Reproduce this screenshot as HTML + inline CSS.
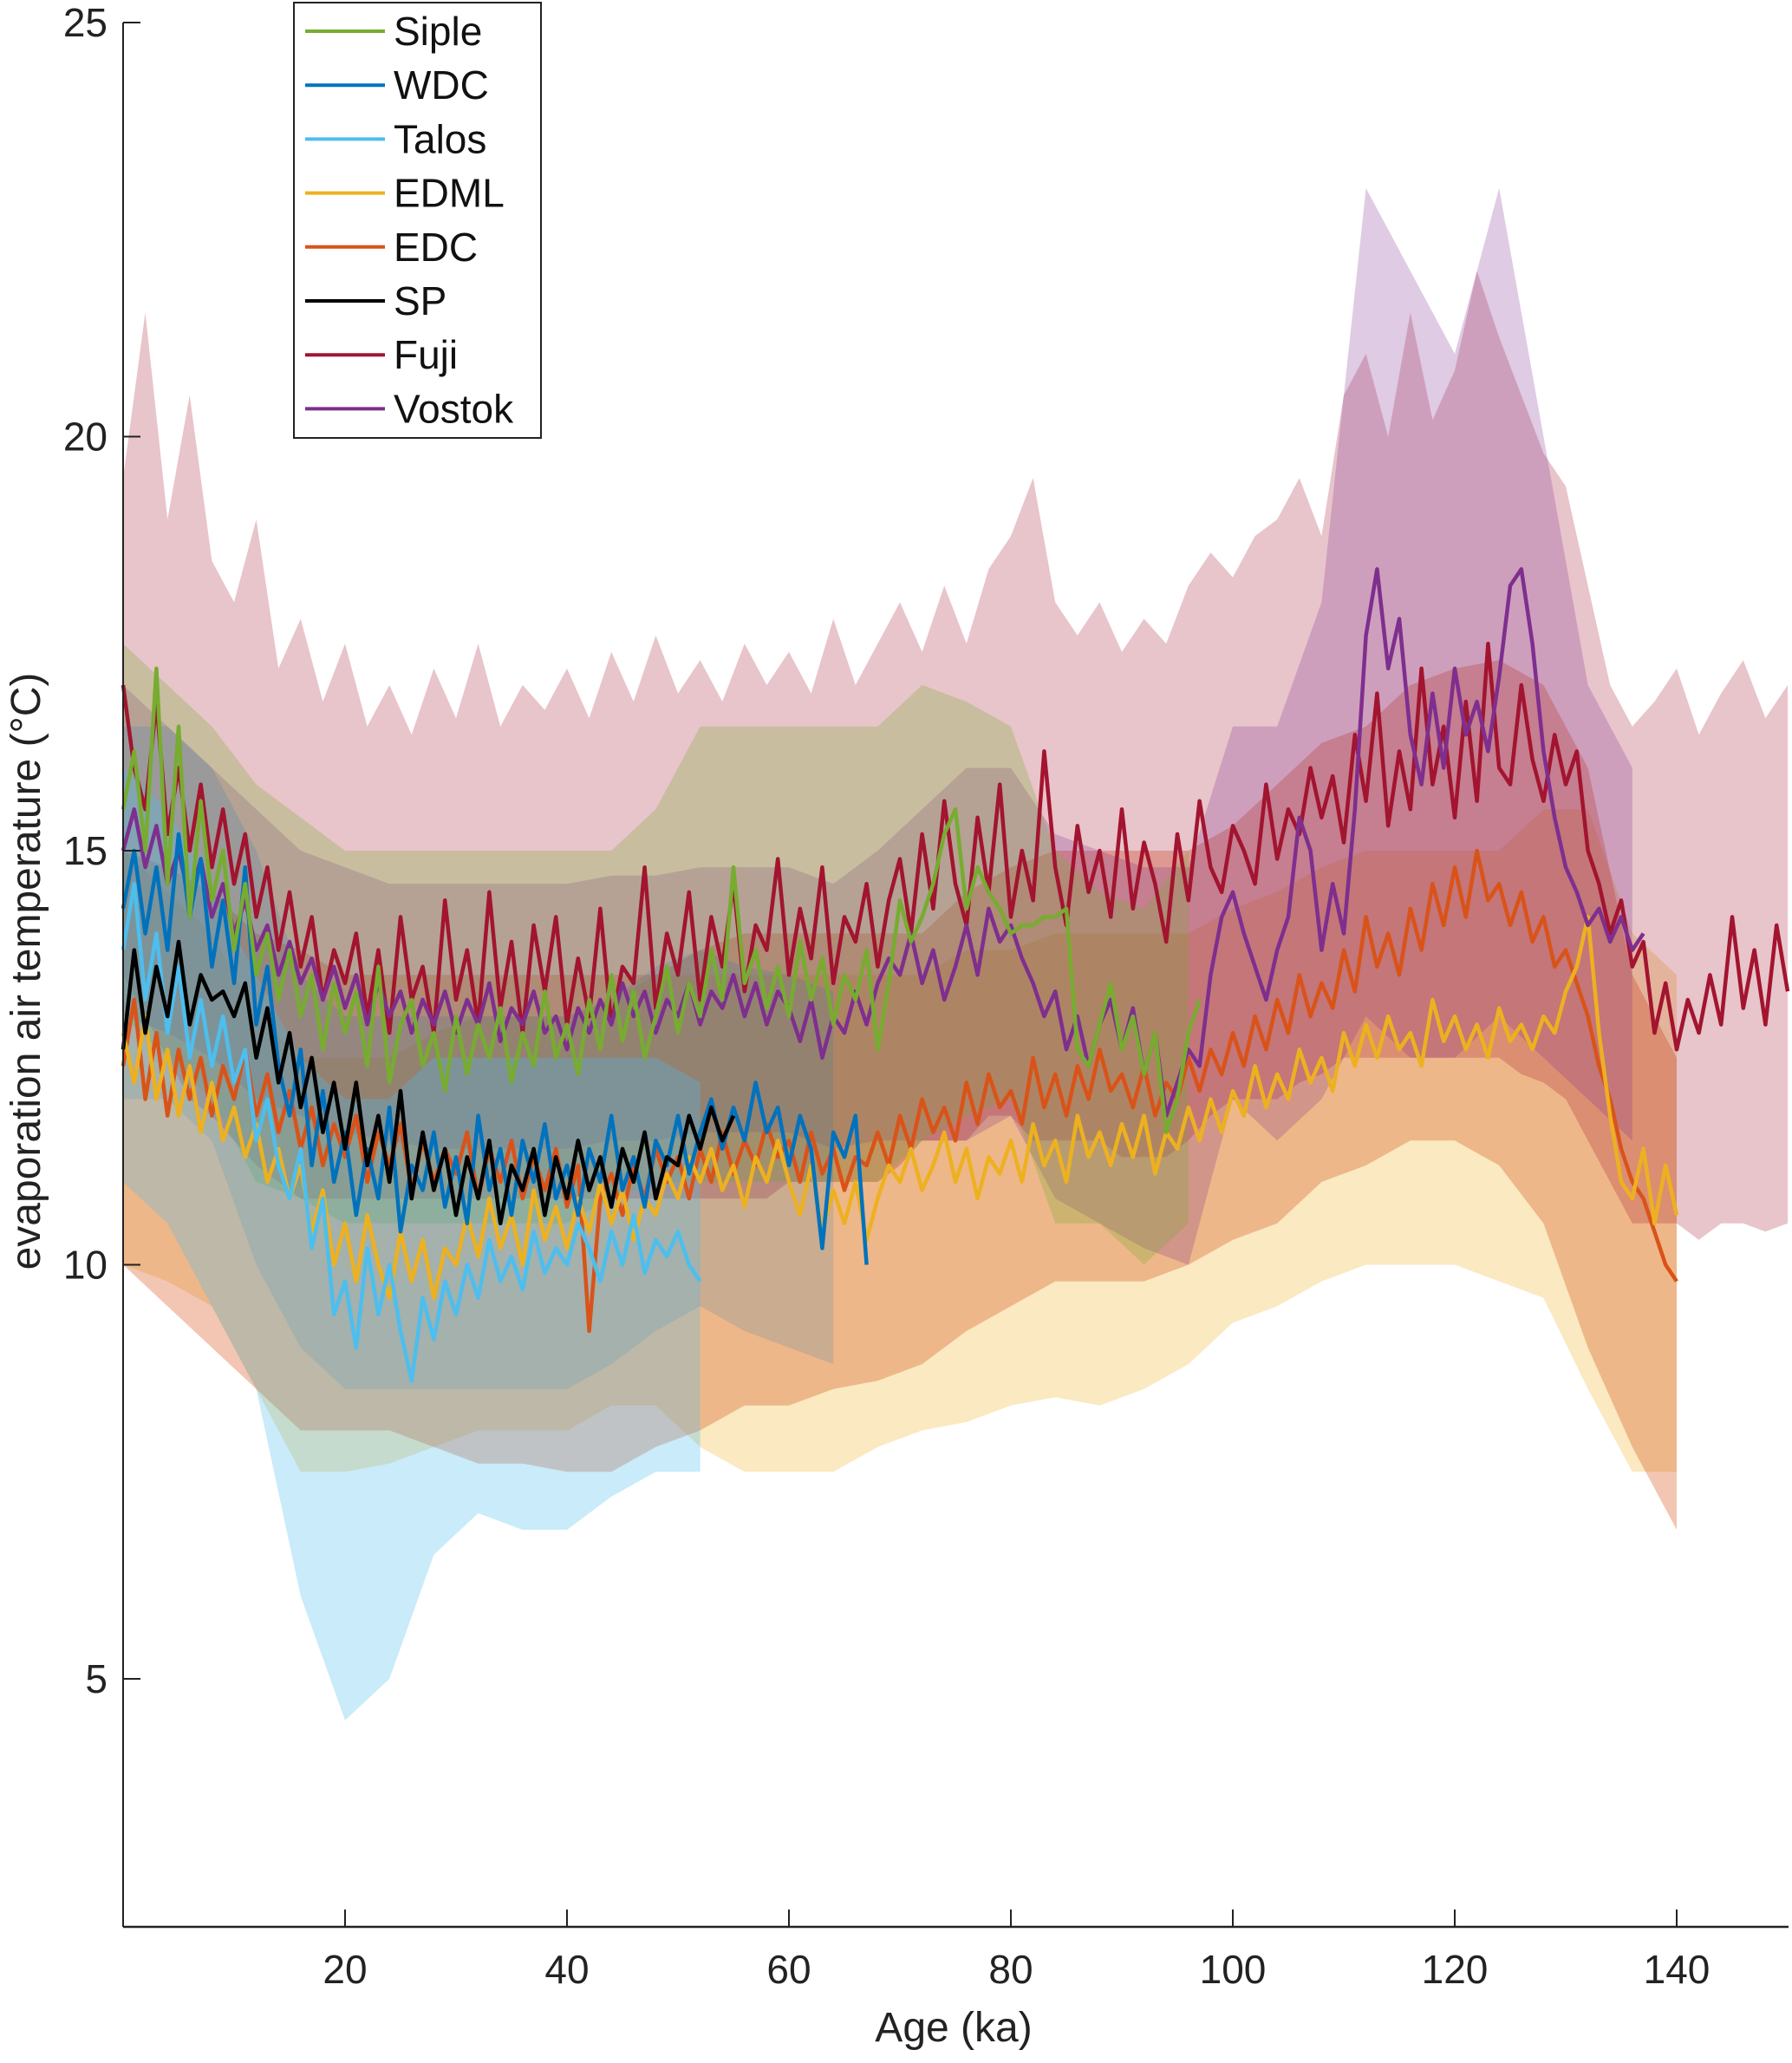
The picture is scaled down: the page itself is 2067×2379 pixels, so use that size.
<!DOCTYPE html>
<html><head><meta charset="utf-8"><style>
html,body{margin:0;padding:0;background:#fff;}
svg{display:block;font-family:"Liberation Sans",Arial,sans-serif;}
</style></head><body>
<svg id="chart" width="2067" height="2379" viewBox="0 0 2067 2379" xmlns="http://www.w3.org/2000/svg">
<g id="bands"></g>
<g id="lines"></g>
<g id="axes"></g>
<g id="legend"></g>
</svg>
<script>
const xTicks=[20,40,60,80,100,120,140];
const yTicks=[5,10,15,20,25];
const seriesNames=["Siple","WDC","Talos","EDML","EDC","SP","Fuji","Vostok"];

const fujiTemp=[17,16,15.5,16.8,15.2,16,15,15.8,14.8,15.5,14.6,
15.2,14.2,14.8,13.8,14.5,13.6,14.2,13.2,13.8,13.4,
14,13,13.8,12.8,14.2,13.2,13.6,12.8,14.4,13.2,
13.8,12.9,14.5,13.1,13.9,12.8,14.1,13.3,14.2,12.9,
13.7,13,14.3,12.9,13.6,13.4,14.8,13.1,14,13.5,
14.5,13.2,14.2,13.6,14.6,13.3,14.1,13.8,14.9,13.5,
14.3,13.7,14.8,13.4,14.2,13.9,14.6,13.6,14.4,14.9,
14,15.2,14.3,15.6,14.6,14.1,15.4,14.5,15.8,14.2,
15,14.4,16.2,14.8,14.1,15.3,14.5,15,14.2,15.5,
14.3,15.1,14.6,13.9,15.2,14.4,15.6,14.8,14.5,15.3,
15,14.6,15.8,14.9,15.5,15.2,16,15.4,15.9,15.1,
16.4,15.6,16.9,15.3,16.2,15.5,17.2,15.8,16.5,15.4,
16.8,15.6,17.5,16,15.8,17,16.1,15.6,16.4,15.8,
16.2,15,14.6,14,14.4,13.6,13.9,12.8,13.4,12.6,
13.2,12.8,13.5,12.9,14.2,13.1,13.8,12.9,14.1,13.3];
const fujiUpper=[19.5,21.5,19,20.5,18.5,18,19,17.2,17.8,16.8,17.5,16.5,17,16.4,17.2,16.6,17.5,16.5,17,16.7,17.2,16.6,17.4,16.8,17.6,16.9,17.3,16.8,17.5,17,17.4,16.9,17.8,17,17.5,18,17.4,18.2,17.5,18.4,18.8,19.5,18,17.6,18,17.4,17.8,17.5,18.2,18.6,18.3,18.8,19,19.5,18.8,20.5,21,20,21.5,20.2,20.8,22,21.2,20.5,19.8,19.4,18.2,17,16.5,16.8,17.2,16.4,16.9,17.3,16.6,17];
const fujiLower=[13.5,13,12.5,12,11.8,11.5,11.2,11,10.8,10.8,10.8,10.8,10.8,10.8,10.8,10.8,10.8,10.8,10.8,10.8,10.8,10.8,10.8,10.8,10.8,10.8,10.8,10.8,10.8,10.8,11,11,11,11,11,11.2,11.5,11.5,11.5,11.8,11.8,11.5,11.5,11.5,11.5,11.3,11.3,11.3,11.5,11.8,12,12,12,12.2,12.3,12.5,12.5,12.5,12.5,12.5,12.5,12.5,12.5,12.3,12.2,12,11.5,11,10.5,10.5,10.5,10.3,10.5,10.5,10.4,10.5];

const vostokTemp=[15,15.5,14.8,15.3,14.6,15,14.4,14.9,14.2,14.6,
14,14.4,13.8,14.1,13.5,13.9,13.4,13.7,13.2,13.6,
13.1,13.5,12.9,13.4,13,13.3,12.8,13.2,12.9,13.3,
12.8,13.2,12.9,13.4,12.7,13.1,12.9,13.3,12.8,13,
12.6,13.1,12.8,13.2,12.9,13.4,13,13.3,12.8,13.2,
13,13.4,12.9,13.3,13.1,13.5,13,13.4,12.9,13.3,
13.1,12.7,13.2,12.5,13,12.8,13.3,12.9,13.4,13.7,
13.5,14,13.4,13.8,13.2,13.6,14.1,13.5,14.3,13.9,
14.1,13.7,13.4,13,13.3,12.6,13,12.4,12.9,13.2,
12.6,13.1,12.3,12.8,11.8,12.2,12.6,12.4,13.5,14.2,
14.5,14,13.6,13.2,13.8,14.2,15.4,15,13.8,14.6,
14,15.5,17.6,18.4,17.2,17.8,16.4,15.8,16.9,16,
17.2,16.4,16.8,16.2,17.1,18.2,18.4,17.5,16.2,15.4,
14.8,14.5,14.1,14.3,13.9,14.2,13.8,14];
const vostokUpper=[17,16.5,16,15.5,15,14.8,14.6,14.6,14.6,14.6,14.6,14.7,14.7,14.8,14.8,14.8,14.6,15,15.5,16,16,15.2,15,14.8,14.8,16.5,16.5,18,23,22,21,23,20,17,16];
const vostokLower=[13,12.8,12.5,12,11.8,11.6,11.5,11.4,11.4,11.4,11.4,11.5,11.5,11.6,11.6,11.6,11.4,11.5,11.5,11.5,11.8,10.8,10.5,10.2,10,12,11.5,12,13,12.5,12.5,13,12.5,12,11.5];

const sipleTemp=[15.5,16.2,15,17.2,14.6,16.5,14.2,15.6,14.4,15,
13.8,14.6,13.5,14,13.2,13.8,13,13.5,12.6,13.4,
12.8,13.3,12.4,13.6,12.2,12.9,13.2,12.4,12.8,12.1,
13,12.3,12.9,12.5,13.1,12.2,12.8,12.4,13.3,12.5,
12.9,12.3,13.2,12.6,13.5,12.7,13.3,12.5,13,13.6,
12.8,13.4,13,13.8,13.2,14.8,13.4,13.8,13.1,13.6,
13,13.9,13.2,13.7,12.9,13.5,13.2,13.8,12.6,13.4,
14.4,13.9,14.2,14.6,15.2,15.5,14.3,14.8,14.5,14.3,
14,14.1,14.1,14.2,14.2,14.3,12.6,12.4,12.9,13.4,
12.6,13,12.3,12.8,11.6,12,12.8,13.2];
const sipleUpper=[17.5,17,16.5,15.8,15.4,15,15,15,15,15,15,15,15.5,16.5,16.5,16.5,16.5,16.5,17,16.8,16.5,15,14.5,14.3,15];
const sipleLower=[13,12.5,12,11,10.8,10.5,10.5,10.5,10.5,10.5,10.5,10.8,11,11,11,11,11,11,11.5,11.8,12,10.5,10.5,10,10.5];

const wdcTemp=[14.3,15,14,14.8,13.8,15.2,14.2,14.9,13.6,14.4,
13.4,14.8,12.9,13.6,12.4,11.8,12.6,11.2,12.1,11,
11.6,10.6,11.4,10.8,11.9,10.4,11.2,10.9,11.6,10.7,
11.3,10.5,11.8,10.9,11.4,10.6,11.5,11,11.7,10.8,
11.2,10.6,11.4,11,11.8,10.9,11.3,10.7,11.5,11.2,
11.8,11.1,11.6,12,11.4,11.9,11.5,12.2,11.6,11.9,
11.2,11.8,11.4,10.2,11.6,11.3,11.8,10];
const wdcUpper=[16.5,16.5,16,15,13.5,13,13,13,13,13,13,13.2,13.6,13.8,13.6,13.5,13.3];
const wdcLower=[12,12,11.5,10,9,8.5,8.5,8.5,8.5,8.5,8.5,8.8,9.2,9.5,9.2,9,8.8];

const talosTemp=[13.8,14.6,13.2,14,12.8,13.6,12.5,13.2,12.4,13,
12.2,12.6,11.5,12,11.2,10.8,11.4,10.2,10.8,9.4,
9.8,9,10.2,9.4,10,9.2,8.6,9.6,9.1,9.8,
9.4,10,9.6,10.3,9.8,10.1,9.7,10.4,9.9,10.2,
10,10.5,10.2,9.8,10.4,10,10.6,9.9,10.3,10.1,
10.4,10,9.8];
const talosUpper=[16,15.5,14.5,13.5,12.5,12,12,12.5,12.5,12.5,12.5,12.5,12.5,12.2];
const talosLower=[11,10.5,9.5,8.5,6,4.5,5,6.5,7,6.8,6.8,7.2,7.5,7.5];

const edmlTemp=[12.8,12.2,13,12,12.6,11.8,12.4,11.6,12.2,11.5,
11.9,11.3,11.7,11,11.4,10.8,11.2,10.4,10.9,10,
10.5,9.8,10.6,10,9.6,10.4,9.8,10.3,9.6,10.2,
10,10.6,10.1,10.8,10.2,10.6,10,10.9,10.3,10.7,
10.2,10.8,10.4,11,10.5,10.9,10.3,10.8,10.6,11.1,
10.8,11.3,11,11.4,10.9,11.2,10.7,11.3,11,11.5,
11,10.6,11.2,10.4,10.9,10.5,11,10.3,10.8,11.2,
11,11.4,10.9,11.2,11.6,11,11.4,10.8,11.3,11.1,
11.5,11,11.7,11.2,11.5,11,11.8,11.3,11.6,11.2,
11.7,11.3,11.8,11.1,11.6,11.4,11.9,11.5,12,11.6,
12.1,11.8,12.4,11.9,12.3,12,12.6,12.2,12.5,12.1,
12.8,12.4,12.9,12.5,13,12.6,12.8,12.4,13.2,12.7,
13,12.6,12.9,12.5,13.1,12.7,12.9,12.6,13,12.8,
13.3,13.6,14.2,12.8,11.8,11,10.8,11.4,10.5,11.2,10.6];
const edmlUpper=[15,14.5,14,13,12.5,12.5,12.5,12.8,13,13,13,13.2,13.5,13.5,13.5,13.5,13.5,13.5,13.5,13.8,13.8,14,14,14,14,14.3,14.5,14.8,15,15,15,15,15.5,15.5,14,13.5];
const edmlLower=[10,9.8,9.5,8.5,7.5,7.5,7.6,7.8,8,8,8,8.3,8.3,7.8,7.5,7.5,7.5,7.8,8,8.1,8.3,8.4,8.3,8.5,8.8,9.3,9.5,9.8,10,10,10,9.8,9.6,8.5,7.5,7.5];

const edcTemp=[12.4,13.2,12,12.8,11.8,12.6,12,12.5,11.8,12.4,
12,12.6,11.8,12.3,11.6,12.1,11.4,11.9,11.2,11.7,
11.3,11.8,11,11.6,11.2,11.7,10.9,11.5,11,11.4,
11.1,11.6,10.8,11.4,11,11.5,10.8,11.3,10.9,11.4,
10.7,11.2,9.2,10.8,11.1,10.6,11.2,10.8,11.4,11,
11.3,10.8,11.4,11,11.6,11.1,11.5,11.2,11.7,11.3,
11.5,11,11.6,11.1,11.4,10.9,11.3,11.2,11.6,11.2,
11.8,11.4,12,11.6,11.9,11.5,12.2,11.7,12.3,11.9,
12.1,11.7,12.5,11.9,12.3,11.8,12.4,12,12.6,12.1,
12.3,11.9,12.4,11.8,12.2,12,12.5,12.1,12.6,12.3,
12.8,12.4,13,12.6,13.2,12.8,13.5,13,13.4,13.1,
13.8,13.3,14.2,13.6,14,13.5,14.3,13.8,14.6,14.1,
14.8,14.2,15,14.4,14.6,14.1,14.5,13.9,14.2,13.6,
13.8,13.4,13,12.4,12,11.4,11,10.8,10.4,10,9.8];
const edcUpper=[15,14.8,14.5,14,13.8,13.5,13.5,13.5,13.5,13.5,13.5,13.5,13.5,13.8,14,14,14,14,14,14.5,14.8,15,15,15,15,15.3,15.8,16.3,16.5,17,17.2,17.3,17,16,13.5,12.5];
const edcLower=[10,9.5,9,8.5,8,8,8,7.8,7.6,7.6,7.5,7.5,7.8,8,8.3,8.3,8.5,8.6,8.8,9.2,9.5,9.8,9.8,9.8,10,10.3,10.5,11,11.2,11.5,11.5,11.2,10.5,9,7.8,6.8];

const spTemp=[12.6,13.8,12.8,13.6,13,13.9,12.9,13.5,13.2,13.3,
13,13.4,12.5,13.1,12.2,12.8,11.9,12.5,11.6,12.2,
11.4,12.2,11.2,11.8,11,12.1,10.8,11.6,10.9,11.4,
10.6,11.3,10.8,11.5,10.5,11.2,10.9,11.4,10.6,11.3,
10.8,11.5,10.9,11.3,10.7,11.4,11,11.6,10.8,11.3,
11.2,11.8,11.4,11.9,11.5,11.8];

const NS="http://www.w3.org/2000/svg";
const X0=142, PXK=12.8, YTOP=26, PXV=95.5, YMAX=25, XAXISY=2222;
function xs(a){return X0+a*PXK;}
function ys(v){return YTOP+(YMAX-v)*PXV;}
const bandG=document.getElementById('bands'), lineG=document.getElementById('lines'), axG=document.getElementById('axes'), legG=document.getElementById('legend');

function drawBand(name,up,lo,step,fill){
  let d="";
  for(let i=0;i<up.length;i++){d+=(i?"L":"M")+xs(i*step).toFixed(1)+","+ys(up[i]).toFixed(1);}
  for(let i=lo.length-1;i>=0;i--){d+="L"+xs(i*step).toFixed(1)+","+ys(lo[i]).toFixed(1);}
  const p=document.createElementNS(NS,'path');
  p.setAttribute('d',d+"Z");p.setAttribute('fill',fill);
  
  
  bandG.appendChild(p);
}
function drawLine(name,vals,color){
  let d="";
  for(let i=0;i<vals.length;i++){d+=(i?"L":"M")+xs(i).toFixed(1)+","+ys(vals[i]).toFixed(1);}
  const p=document.createElementNS(NS,'path');
  p.setAttribute('d',d);p.setAttribute('fill','none');p.setAttribute('stroke',color);
  p.setAttribute('stroke-width','4.5');p.setAttribute('stroke-linejoin','round');
  
  
  lineG.appendChild(p);
}
drawBand('edml-band',edmlUpper,edmlLower,4,'rgba(237,177,32,0.28)');
drawBand('edc-band',edcUpper,edcLower,4,'rgba(217,83,25,0.33)');
drawBand('fuji-band',fujiUpper,fujiLower,2,'rgba(162,20,47,0.25)');
drawBand('vostok-band',vostokUpper,vostokLower,4,'rgba(126,47,142,0.25)');
drawBand('siple-band',sipleUpper,sipleLower,4,'rgba(119,172,48,0.28)');
drawBand('wdc-band',wdcUpper,wdcLower,4,'rgba(0,114,189,0.15)');
drawBand('talos-band',talosUpper,talosLower,4,'rgba(77,190,238,0.3)');

drawLine('fuji-line',fujiTemp,'#A2142F');
drawLine('edc-line',edcTemp,'#D95319');
drawLine('edml-line',edmlTemp,'#EDB120');
drawLine('vostok-line',vostokTemp,'#7E2F8E');
drawLine('talos-line',talosTemp,'#4DBEEE');
drawLine('wdc-line',wdcTemp,'#0072BD');
drawLine('siple-line',sipleTemp,'#77AC30');
drawLine('sp-line',spTemp,'#000000');

function mk(tag,attrs,parent,text){
  const e=document.createElementNS(NS,tag);
  for(const k in attrs)e.setAttribute(k,attrs[k]);
  if(text!==undefined)e.textContent=text;
  parent.appendChild(e);return e;
}
const yAxis=mk('line',{x1:X0,y1:ys(YMAX),x2:X0,y2:XAXISY,stroke:'#222','stroke-width':2},axG);


const xAxis=mk('line',{x1:X0,y1:XAXISY,x2:2063,y2:XAXISY,stroke:'#222','stroke-width':2.5},axG);


yTicks.forEach(v=>{
  const t=mk('line',{x1:X0,y1:ys(v),x2:X0+20,y2:ys(v),stroke:'#222','stroke-width':2},axG);
  
  
  const l=mk('text',{x:124,y:ys(v)+16,'text-anchor':'end','font-size':46,fill:'#222'},axG,String(v));
  
  
});
xTicks.forEach(a=>{
  const t=mk('line',{x1:xs(a),y1:XAXISY,x2:xs(a),y2:XAXISY-20,stroke:'#222','stroke-width':2},axG);
  
  
  const l=mk('text',{x:xs(a),y:2287,'text-anchor':'middle','font-size':46,fill:'#222'},axG,String(a));
  
  
});
const xt=mk('text',{x:1100,y:2354,'text-anchor':'middle','font-size':48,fill:'#222'},axG,'Age (ka)');


const yt=mk('text',{x:0,y:0,'text-anchor':'middle','font-size':48,fill:'#222',transform:'translate(46,1120) rotate(-90)'},axG,'evaporation air temperature (°C)');



const box=mk('rect',{x:339,y:3,width:285,height:502,fill:'#fff',stroke:'#222','stroke-width':2},legG);


const legColors=['#77AC30','#0072BD','#4DBEEE','#EDB120','#D95319','#000000','#A2142F','#7E2F8E'];
seriesNames.forEach((n,i)=>{
  const y=36+i*62.2;
  const g=mk('g',{},legG);
  
  
  mk('line',{x1:352,y1:y,x2:444,y2:y,stroke:legColors[i],'stroke-width':4},g);
  mk('text',{x:454,y:y+16,'font-size':46,fill:'#111'},g,n);
});
</script>
</body></html>
